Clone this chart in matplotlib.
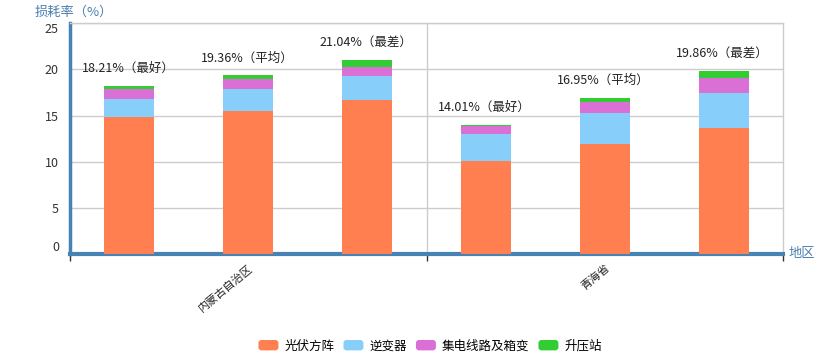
import matplotlib
matplotlib.use("Agg")
import matplotlib.pyplot as plt
from matplotlib.legend_handler import HandlerPatch
from matplotlib.patches import FancyBboxPatch
import numpy as np

plt.rcParams['font.family'] = ['Noto Sans CJK SC', 'DejaVu Sans']

regions = ['内蒙古自治区', '青海省']
levels = ['最好', '平均', '最差', '最好', '平均', '最差']
series_names = ['光伏方阵', '逆变器', '集电线路及箱变', '升压站']
pv = [14.88, 15.49, 16.72, 10.05, 11.88, 13.62]
inverter = [1.95, 2.35, 2.56, 2.95, 3.36, 3.79]
collector = [1.00, 1.09, 1.01, 0.85, 1.26, 1.63]
booster = [0.38, 0.43, 0.75, 0.16, 0.45, 0.82]
totals = [18.21, 19.36, 21.04, 14.01, 16.95, 19.86]
yticks = [0, 5, 10, 15, 20, 25]
colors = ['#FF7F50', '#87CEFA', '#DA70D6', '#32CD32']


class RoundHandler(HandlerPatch):
    def create_artists(self, legend, orig_handle, xdescent, ydescent, width, height, fontsize, trans):
        fc = orig_handle.get_facecolor()
        p = FancyBboxPatch((-xdescent, -ydescent), width, height,
                           boxstyle="round,pad=0,rounding_size=%f" % (height * 0.3),
                           facecolor=fc, edgecolor='none', transform=trans)
        return [p]


fig = plt.figure(figsize=(8.36, 3.64), dpi=100)
ax = fig.add_axes([70/836, 1-254/364, (783-70)/836, (254-23.3)/364])

x = np.arange(len(totals))
bottom = np.zeros(len(totals))
handles = []
for vals, c, name in zip([pv, inverter, collector, booster], colors, series_names):
    h = ax.bar(x, vals, width=0.42, bottom=bottom, color=c, label=name, zorder=3)
    handles.append(h.patches[0])
    bottom += np.array(vals)

for xi, tot, lv in zip(x, totals, levels):
    ax.annotate(f"{tot:.2f}%（{lv}）", xy=(xi, tot), xytext=(-1, 12.5),
                textcoords='offset points', ha='center', va='center',
                fontsize=9, color='#222222')

ax.set_xlim(-0.5, 5.5)
ax.set_ylim(0, 25)
ax.set_yticks(yticks)
ax.set_yticklabels([str(v) for v in yticks], fontsize=9, color='#333333')
labs = ax.get_yticklabels()
labs[0].set_va('bottom')
labs[-1].set_va('top')
ax.tick_params(axis='y', length=0, pad=8)
ax.grid(axis='y', color='#cccccc', linewidth=1, zorder=0)

# group boundaries as major ticks, group names as minor ticks
ax.set_xticks([-0.5, 2.5, 5.5])
ax.set_xticklabels(['', '', ''])
ax.tick_params(axis='x', which='major', length=5, width=1, color='#333333', direction='out')
ax.set_xticks([1, 4], minor=True)
ax.set_xticklabels(regions, minor=True, rotation=40, ha='right', va='top',
                   rotation_mode='anchor', fontsize=8, color='#222222')
ax.tick_params(axis='x', which='minor', length=0, pad=6)
ax.axvline(2.5, color='#cccccc', linewidth=1, zorder=1)

for s in ['top', 'right']:
    ax.spines[s].set_color('#cccccc')
    ax.spines[s].set_linewidth(1)
ax.spines['left'].set_color('#4682B4')
ax.spines['left'].set_linewidth(2.5)
ax.spines['bottom'].set_color('#4682B4')
ax.spines['bottom'].set_linewidth(3)

fig.text(35/836, 1-12/364, '损耗率（%）', fontsize=9.5, color='#4a7fb0', ha='left', va='center')
fig.text(789/836, 1-253/364, '地区', fontsize=9.5, color='#4a7fb0', ha='left', va='center')

leg = fig.legend(handles=handles, labels=series_names, loc='center', ncol=4,
                 bbox_to_anchor=(430/836, 1-346/364), frameon=False, fontsize=9,
                 handlelength=1.6, handleheight=0.9, handletextpad=0.45, columnspacing=0.75,
                 handler_map={h: RoundHandler() for h in handles})

fig.savefig('out.png', dpi=100)
